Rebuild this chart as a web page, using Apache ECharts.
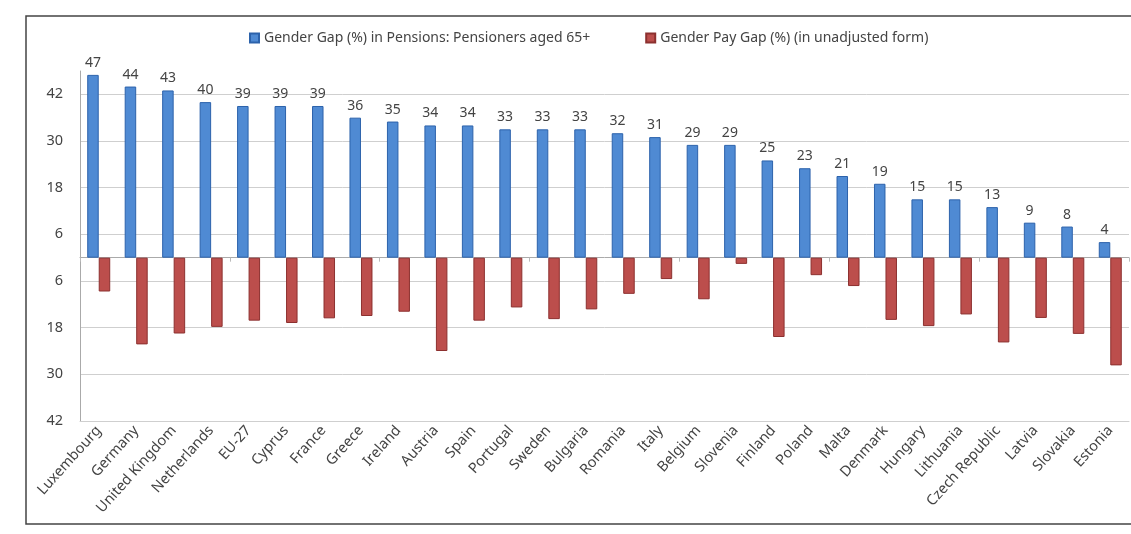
<!DOCTYPE html>
<html>
<head>
<meta charset="utf-8">
<script src="https://cdn.jsdelivr.net/npm/echarts@6/dist/echarts.min.js"></script>
<style>
html,body{margin:0;padding:0;background:#fff;}
#chart{width:1131px;height:534px;}
</style>
</head>
<body>
<div id="chart"></div>
<script>
const categories = ["Luxembourg","Germany","United Kingdom","Netherlands","EU-27","Cyprus","France","Greece","Ireland","Austria","Spain","Portugal","Sweden","Bulgaria","Romania","Italy","Belgium","Slovenia","Finland","Poland","Malta","Denmark","Hungary","Lithuania","Czech Republic","Latvia","Slovakia","Estonia"];
const pensionGap = [47,44,43,40,39,39,39,36,35,34,34,33,33,33,32,31,29,29,25,23,21,19,15,15,13,9,8,4];
const payGap = [8.7,22.3,19.5,17.8,16.2,16.8,15.6,15.0,13.9,24.0,16.2,12.8,15.8,13.3,9.3,5.5,10.7,1.6,20.4,4.5,7.3,16.0,17.6,14.6,21.8,15.5,19.6,27.7];
const yTickLabels = [42,30,18,6,-6,-18,-30,-42];
const seriesNames = ["Gender Gap (%) in Pensions: Pensioners aged 65+","Gender Pay Gap (%) (in unadjusted form)"];

const chart = echarts.init(document.getElementById('chart'));
const txt = '#444';
chart.setOption({
  backgroundColor: '#ffffff',
  animation: false,
  textStyle: {fontFamily: 'Noto Sans'},
  graphic: [{
    type: 'rect', silent: true,
    shape: {x: 26, y: 16, width: 1200, height: 508},
    style: {fill: 'none', stroke: '#444', lineWidth: 1.5}
  }],
  legend: {
    left: 244, top: 26,
    itemWidth: 9, itemHeight: 9, itemGap: 55,
    icon: 'rect',
    textStyle: {color: txt, fontSize: 14, fontFamily: 'Noto Sans'},
    data: seriesNames
  },
  grid: {left: 80, right: 2, top: 71, bottom: 113},
  xAxis: [{
    type: 'category', data: categories,
    axisLine: {onZero: true, lineStyle: {color: '#aaa'}},
    axisTick: {show: true, length: 4, lineStyle: {color: '#bbb'}},
    axisLabel: {show: false}
  }, {
    type: 'category', data: categories, position: 'bottom',
    axisLine: {show: true, onZero: false, lineStyle: {color: '#cfcfcf'}}, axisTick: {show: false},
    axisLabel: {rotate: 48, margin: 7, fontSize: 14.5, color: txt, interval: 0}
  }],
  yAxis: {
    type: 'value', min: -42, max: 48, interval: 6,
    axisLine: {show: true, lineStyle: {color: '#aaa'}},
    axisTick: {show: false},
    axisLabel: {
      margin: 17, fontSize: 14.5, color: txt,
      formatter: v => yTickLabels.indexOf(v) >= 0 ? String(Math.abs(v)) : ''
    },
    splitLine: {show: true, lineStyle: {color: ['#cfcfcf', 'rgba(0,0,0,0)'], width: 1}}
  },
  series: [{
    name: seriesNames[0], type: 'bar', xAxisIndex: 0,
    data: pensionGap, barWidth: 11.5, barGap: '0%',
    itemStyle: {color: '#4f8ad3', borderColor: '#2c62ab', borderWidth: 1},
    label: {show: true, position: 'top', distance: 5, fontSize: 14, color: txt}
  }, {
    name: seriesNames[1], type: 'bar', xAxisIndex: 0,
    data: payGap.map(v => -v), barWidth: 11.5, barGap: '0%',
    itemStyle: {color: '#bc4e4c', borderColor: '#8c302f', borderWidth: 1}
  }]
});
</script>
</body>
</html>
